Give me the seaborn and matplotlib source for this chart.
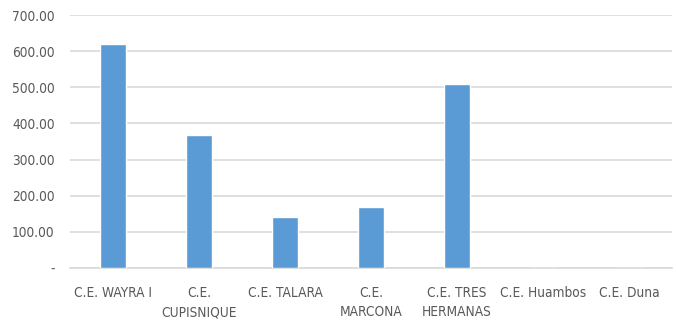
import pandas as pd
import matplotlib.pyplot as plt
import seaborn as sns
from matplotlib.ticker import FuncFormatter

# Data
centrales = ['C.E. WAYRA I', 'C.E.\nCUPISNIQUE', 'C.E. TALARA', 'C.E.\nMARCONA',
             'C.E. TRES\nHERMANAS', 'C.E. Huambos', 'C.E. Duna']
valores = [620, 368, 141, 169, 509, 0, 0]
y_ticks = [0, 100, 200, 300, 400, 500, 600, 700]

df = pd.DataFrame({'central': centrales, 'valor': valores})

sns.set_style('white')
plt.rcParams['font.family'] = ['DejaVu Sans']
plt.rcParams['font.stretch'] = 'condensed'

fig = plt.figure(figsize=(6.76, 3.24), dpi=100)
ax = fig.add_axes([0.1036, 0.1728, 0.8904, 0.7809])

sns.barplot(data=df, x='central', y='valor', color='#5B9BD5', width=0.31,
            saturation=1, ax=ax, zorder=3)

ax.set_ylim(0, 700)
ax.set_yticks(y_ticks)
ax.yaxis.set_major_formatter(FuncFormatter(lambda v, p: '-' if v == 0 else f'{v:.2f}'))
ax.grid(axis='y', color='#D9D9D9', linewidth=1.2, zorder=0)
ax.set_xlim(-0.5, 6.5)

for s in ['top', 'right', 'left']:
    ax.spines[s].set_visible(False)
ax.spines['bottom'].set_color('#D9D9D9')
ax.spines['bottom'].set_linewidth(1.2)

ax.tick_params(axis='both', length=0, labelsize=9.8, labelcolor='#595959')
ax.tick_params(axis='y', pad=11)
ax.tick_params(axis='x', pad=13)
for lbl in ax.get_xticklabels():
    lbl.set_linespacing(1.45)
ax.set_xlabel('')
ax.set_ylabel('')

plt.savefig('out.png', dpi=100)
